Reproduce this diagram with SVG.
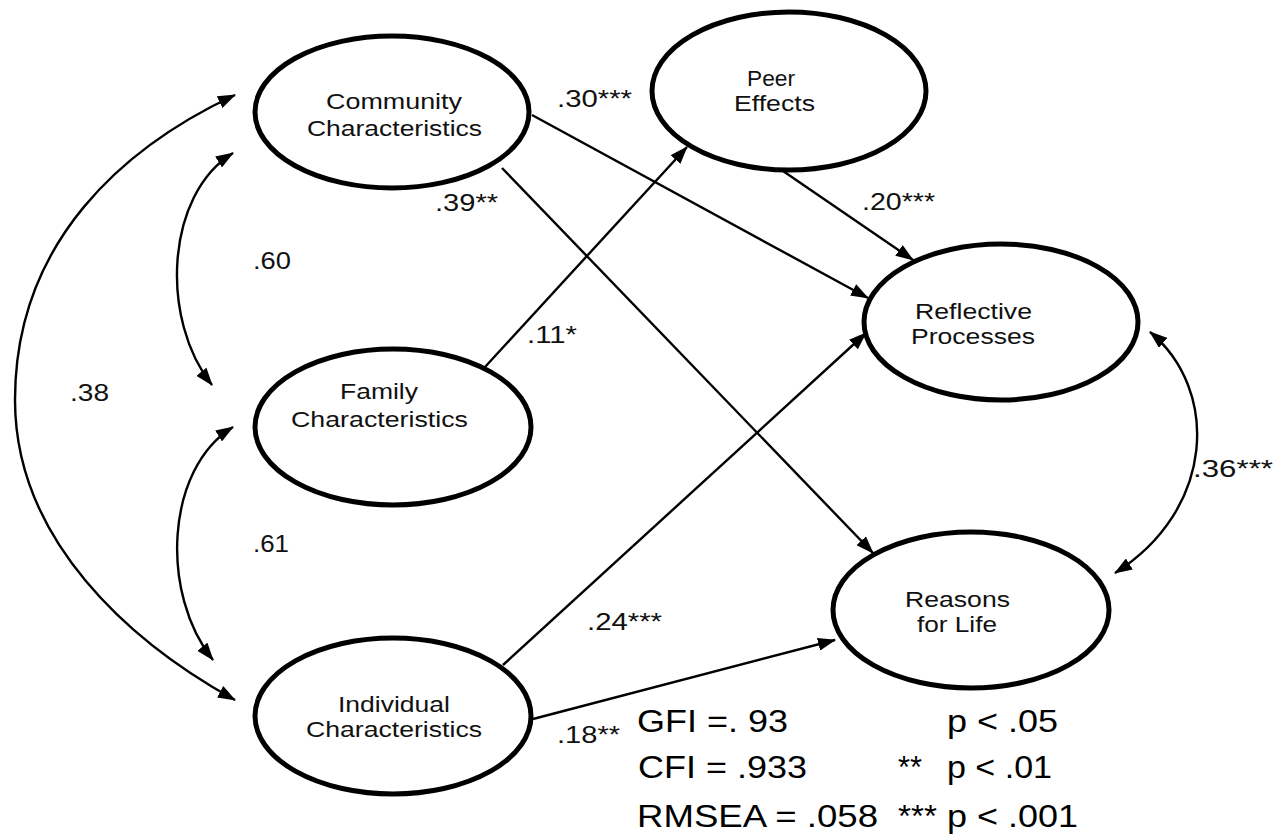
<svg xmlns="http://www.w3.org/2000/svg" width="1273" height="836" viewBox="0 0 1273 836">
<style>
.node ellipse{fill:#fff;stroke:#000;stroke-width:5}
.nt{font-family:"Liberation Sans",Arial,sans-serif;font-size:22.5px;fill:#111}
.lb{font-family:"Liberation Sans",Arial,sans-serif;font-size:24px;fill:#111}
.big{font-family:"Liberation Sans",Arial,sans-serif;font-size:31.5px;fill:#000}
.edge{fill:none;stroke:#000;stroke-width:2.4}
</style>
<defs>
<marker id="ah" viewBox="0 0 18 13" refX="17" refY="6.5" markerWidth="18" markerHeight="13" markerUnits="userSpaceOnUse" orient="auto-start-reverse">
<path d="M0,0 L18,6.5 L0,13 z" fill="#000"/>
</marker>
</defs>
<rect width="1273" height="836" fill="#fff"/>
<g id="connectors">
<path class="edge" d="M532,115 L868,298" marker-end="url(#ah)"/>
<path class="edge" d="M502,168 L873,553" marker-end="url(#ah)"/>
<path class="edge" d="M485,367 L687,147" marker-end="url(#ah)"/>
<path class="edge" d="M783,171 L913,260" marker-end="url(#ah)"/>
<path class="edge" d="M503,665 L866,333" marker-end="url(#ah)"/>
<path class="edge" d="M533,719 L835,640" marker-end="url(#ah)"/>
<path class="edge" d="M235,95 C126,146 15,240 15,400 C15,540 130,642 235,700" marker-start="url(#ah)" marker-end="url(#ah)"/>
<path class="edge" d="M233,153 C165,195 160,320 212,385" marker-start="url(#ah)" marker-end="url(#ah)"/>
<path class="edge" d="M233,427 C165,469 160,594 213,660" marker-start="url(#ah)" marker-end="url(#ah)"/>
<path class="edge" d="M1150,332 C1220,390 1215,510 1115,573" marker-start="url(#ah)" marker-end="url(#ah)"/>
</g>
<g id="community" class="node">
<ellipse cx="392" cy="112" rx="137" ry="76"/>
<text class="nt" x="326" y="109" textLength="136" lengthAdjust="spacingAndGlyphs">Community</text>
<text class="nt" x="307" y="136" textLength="175" lengthAdjust="spacingAndGlyphs">Characteristics</text>
</g>
<g id="family" class="node">
<ellipse cx="393" cy="427" rx="138" ry="78"/>
<text class="nt" x="340" y="399" textLength="78" lengthAdjust="spacingAndGlyphs">Family</text>
<text class="nt" x="291" y="427" textLength="177" lengthAdjust="spacingAndGlyphs">Characteristics</text>
</g>
<g id="individual" class="node">
<ellipse cx="393" cy="716" rx="138" ry="78"/>
<text class="nt" x="338" y="712" textLength="112" lengthAdjust="spacingAndGlyphs">Individual</text>
<text class="nt" x="306" y="737" textLength="176" lengthAdjust="spacingAndGlyphs">Characteristics</text>
</g>
<g id="peer" class="node">
<ellipse cx="789" cy="91" rx="137" ry="79"/>
<text class="nt" x="747" y="86" textLength="48" lengthAdjust="spacingAndGlyphs">Peer</text>
<text class="nt" x="734" y="111" textLength="81" lengthAdjust="spacingAndGlyphs">Effects</text>
</g>
<g id="reflective" class="node">
<ellipse cx="1001" cy="322" rx="137" ry="78"/>
<text class="nt" x="915" y="319" textLength="117" lengthAdjust="spacingAndGlyphs">Reflective</text>
<text class="nt" x="911" y="344" textLength="124" lengthAdjust="spacingAndGlyphs">Processes</text>
</g>
<g id="reasons" class="node">
<ellipse cx="971" cy="610" rx="138" ry="78"/>
<text class="nt" x="905" y="607" textLength="105" lengthAdjust="spacingAndGlyphs">Reasons</text>
<text class="nt" x="917" y="632" textLength="80" lengthAdjust="spacingAndGlyphs">for Life</text>
</g>
<g id="labels">
<text class="lb" x="557" y="107" textLength="75" lengthAdjust="spacingAndGlyphs">.30***</text>
<text class="lb" x="862" y="210" textLength="73" lengthAdjust="spacingAndGlyphs">.20***</text>
<text class="lb" x="435" y="211" textLength="63" lengthAdjust="spacingAndGlyphs">.39**</text>
<text class="lb" x="527" y="343" textLength="50" lengthAdjust="spacingAndGlyphs">.11*</text>
<text class="lb" x="253" y="269" textLength="38" lengthAdjust="spacingAndGlyphs">.60</text>
<text class="lb" x="70" y="401" textLength="39" lengthAdjust="spacingAndGlyphs">.38</text>
<text class="lb" x="253" y="552" textLength="36" lengthAdjust="spacingAndGlyphs">.61</text>
<text class="lb" x="587" y="630" textLength="75" lengthAdjust="spacingAndGlyphs">.24***</text>
<text class="lb" x="557" y="743" textLength="63" lengthAdjust="spacingAndGlyphs">.18**</text>
<text class="lb" x="1193" y="477" textLength="80" lengthAdjust="spacingAndGlyphs">.36***</text>
</g>
<g id="fit-indices">
<text class="big" x="637" y="732" textLength="151" lengthAdjust="spacingAndGlyphs">GFI =. 93</text>
<text class="big" x="947" y="732" textLength="111" lengthAdjust="spacingAndGlyphs">p &lt; .05</text>
<text class="big" x="638" y="778" textLength="169" lengthAdjust="spacingAndGlyphs">CFI = .933</text>
<text class="big" x="898" y="778" textLength="24" lengthAdjust="spacingAndGlyphs">**</text>
<text class="big" x="947" y="778" textLength="105" lengthAdjust="spacingAndGlyphs">p &lt; .01</text>
<text class="big" x="637" y="827" textLength="241" lengthAdjust="spacingAndGlyphs">RMSEA = .058</text>
<text class="big" x="898" y="827" textLength="39" lengthAdjust="spacingAndGlyphs">***</text>
<text class="big" x="947" y="827" textLength="131" lengthAdjust="spacingAndGlyphs">p &lt; .001</text>
</g>
</svg>
